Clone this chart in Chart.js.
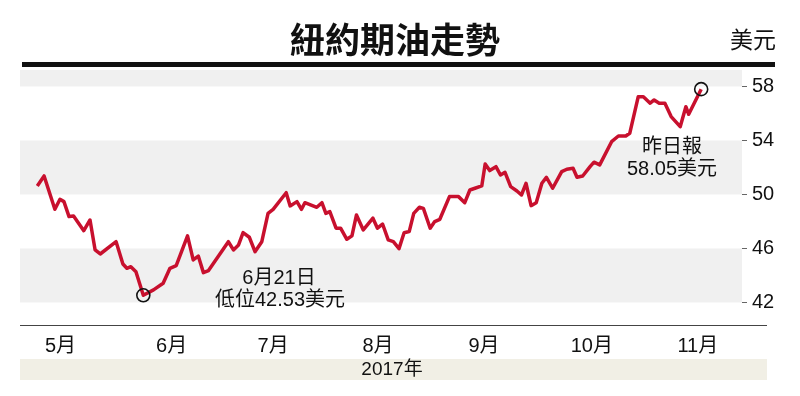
<!DOCTYPE html>
<html>
<head>
<meta charset="utf-8">
<script src="https://cdn.jsdelivr.net/npm/chart.js@4"></script>
<style>
  body { margin: 0; background: #fff; }
  #wrap { width: 800px; height: 396px; }
</style>
</head>
<body>
<div id="wrap"><canvas id="oil-chart"></canvas></div>
<script>
// trading day index (0 = first day shown) and settle price
const tradeDays = [
  0, 1.2, 3.1, 4.0, 4.7, 5.6, 6.4, 8.2, 9.3, 10.2,
  11.1, 13.9, 15.1, 15.8, 16.5, 17.4, 18.7, 20.5, 22.2, 23.4,
  24.5, 26.5, 27.5, 28.4, 29.3, 30.2, 33.7, 34.6, 35.5, 36.3,
  37.4, 38.4, 39.6, 40.7, 41.6, 43.9, 44.6, 45.8, 46.6, 47.2,
  49.3, 50.2, 50.9, 51.6, 52.7, 53.5, 54.6, 55.5, 56.3, 57.5,
  59.2, 60.0, 60.9, 61.9, 62.8, 63.8, 64.7, 65.6, 66.4, 67.4,
  68.1, 69.3, 70.1, 71.0, 72.7, 74.3, 75.4, 76.3, 77.2, 78.4,
  79.0, 79.8, 80.9, 81.7, 82.5, 83.5, 84.6, 85.4, 86.2, 87.1,
  88.0, 89.0, 89.8, 90.9, 92.5, 93.4, 94.5, 95.2, 96.2, 97.5,
  98.2, 99.2, 101.3, 102.5, 103.8, 104.5, 106.0, 106.9, 108.1, 108.8,
  109.7, 110.7, 111.8, 113.4, 114.4, 114.9, 117.1
];
const prices = [
  50.63, 51.37, 48.9, 49.64, 49.47, 48.36, 48.41, 47.32, 48.11, 45.89,
  45.59, 46.5, 44.85, 44.53, 44.65, 44.28, 42.53, 42.93, 43.42, 44.53,
  44.73, 46.93, 45.15, 45.44, 44.21, 44.36, 46.5, 45.89, 46.26, 47.17,
  46.83, 45.76, 46.5, 48.6, 48.9, 50.13, 49.15, 49.47, 48.9, 49.39,
  49.05, 49.39, 48.6, 48.73, 47.5, 47.5, 46.68, 46.93, 48.48, 47.37,
  48.24, 47.5, 47.81, 46.63, 46.5, 45.99, 47.17, 47.25, 48.6, 49.05,
  48.97, 47.5, 47.99, 48.16, 49.84, 49.84, 49.39, 50.33, 50.46, 50.63,
  52.26, 51.77, 52.06, 51.44, 51.64, 50.58, 50.26, 49.96, 50.83, 49.17,
  49.39, 50.83, 51.27, 50.46, 51.69, 51.87, 51.94, 51.27, 51.37, 52.06,
  52.39, 52.19, 53.91, 54.33, 54.33, 54.53, 57.24, 57.24, 56.76, 57.0,
  56.76, 56.76, 55.77, 55.02, 56.5, 55.94, 57.8
];

const monthDays = [4.1, 23.7, 41.6, 60.1, 78.8, 97.8, 116.5];
const monthLabels = ["5月", "6月", "7月", "8月", "9月", "10月", "11月"];
const priceTicks = [42, 46, 50, 54, 58];
const shadedBands = [[42, 46], [50, 54], [58, 60]];

const lowIndex = 16;
const lastIndex = prices.length - 1;

const FONT = '"Liberation Sans", "Noto Sans CJK TC", sans-serif';

const decorations = {
  id: "decorations",
  beforeDatasetsDraw(chart) {
    const { ctx, chartArea: a, scales: { y } } = chart;
    ctx.save();
    ctx.fillStyle = "#f0f0f0";
    shadedBands.forEach(([lo, hi]) => {
      const top = Math.max(y.getPixelForValue(hi), a.top);
      const bottom = Math.min(y.getPixelForValue(lo), a.bottom);
      ctx.fillRect(a.left, top, a.right - a.left, bottom - top);
    });
    ctx.restore();
  },
  afterDraw(chart) {
    const { ctx, chartArea: a } = chart;
    ctx.save();

    // heavy rule under the title
    ctx.fillStyle = "#111";
    ctx.fillRect(22, 62, 753, 5);

    // x axis line
    ctx.fillStyle = "#444";
    ctx.fillRect(a.left, a.bottom, 767 - a.left, 1);

    // year strip
    ctx.fillStyle = "#f1efe5";
    ctx.fillRect(a.left, 359, 767 - a.left, 21);

    ctx.fillStyle = "#111";
    ctx.textBaseline = "middle";
    ctx.textAlign = "center";
    ctx.font = "19px " + FONT;
    ctx.fillText("2017年", 392, 370);

    ctx.font = 'bold 35px "Noto Sans CJK TC", serif';
    ctx.fillText("紐約期油走勢", 395, 40);

    ctx.textAlign = "right";
    ctx.font = "23px " + FONT;
    ctx.fillText("美元", 776, 42);

    // callouts
    ctx.textAlign = "center";
    ctx.font = "20px " + FONT;
    ctx.fillText("6月21日", 279, 278);
    ctx.fillText("低位42.53美元", 280, 300);
    ctx.fillText("昨日報", 672, 147);
    ctx.fillText("58.05美元", 672, 169);

    ctx.restore();
  },
};

new Chart(document.getElementById("oil-chart"), {
  type: "line",
  data: {
    datasets: [
      {
        label: "markers",
        data: [lowIndex, lastIndex].map((i) => ({ x: tradeDays[i], y: prices[i] })),
        showLine: false,
        pointRadius: 6.5,
        pointBorderWidth: 1.6,
        pointBorderColor: "#111",
        pointBackgroundColor: "rgba(0,0,0,0)",
        order: 0,
      },
      {
        label: "紐約期油",
        data: tradeDays.map((d, i) => ({ x: d, y: prices[i] })),
        borderColor: "#c8102e",
        borderWidth: 3.5,
        borderJoinStyle: "round",
        pointRadius: 0,
        tension: 0,
        order: 1,
      },
    ],
  },
  options: {
    responsive: true,
    maintainAspectRatio: false,
    animation: false,
    layout: { padding: { left: 20, top: 70, right: 0, bottom: 0 } },
    plugins: {
      legend: { display: false },
      tooltip: { enabled: false },
    },
    scales: {
      x: {
        type: "linear",
        min: -3.05,
        max: 124.3,
        afterBuildTicks: (scale) => {
          scale.ticks = monthDays.map((v) => ({ value: v }));
        },
        afterFit: (scale) => {
          scale.height = 71;
        },
        grid: { display: false, drawTicks: false },
        border: { display: false },
        ticks: {
          autoSkip: false,
          maxRotation: 0,
          padding: 9,
          color: "#111",
          font: { family: FONT, size: 20 },
          callback: (v, i) => monthLabels[i],
        },
      },
      y: {
        position: "right",
        min: 40.33,
        max: 59.22,
        afterBuildTicks: (scale) => {
          scale.ticks = priceTicks.map((v) => ({ value: v }));
        },
        afterFit: (scale) => {
          scale.width = 58;
        },
        grid: {
          drawOnChartArea: false,
          drawTicks: true,
          tickLength: 5,
          color: "#666",
        },
        border: { display: false },
        ticks: {
          padding: 5,
          color: "#111",
          font: { family: FONT, size: 20 },
        },
      },
    },
  },
  plugins: [decorations],
});
</script>
</body>
</html>
